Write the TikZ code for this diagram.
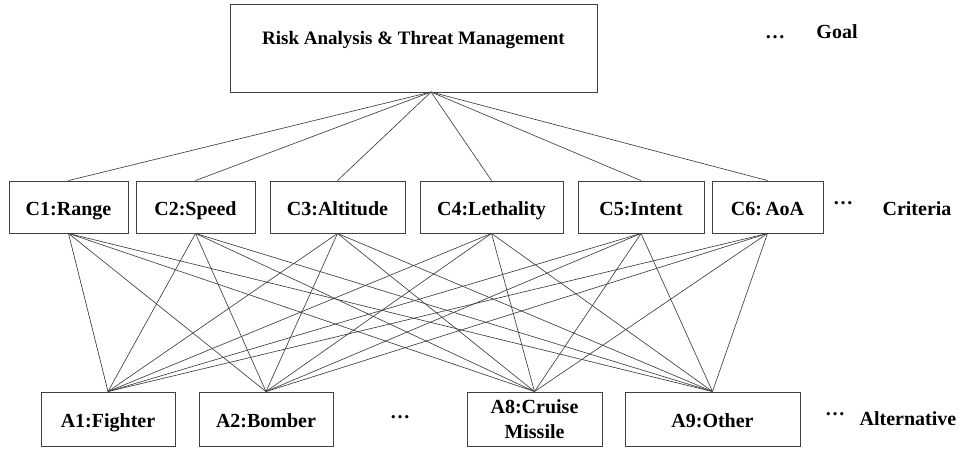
\documentclass[tikz,border=0pt]{standalone}
\usepackage{fontspec}
\setmainfont{Liberation Serif}
\begin{document}
\begin{tikzpicture}[x=1pt,y=-1pt,
  box/.style={draw=black!75,line width=0.9pt,inner sep=0pt,text height=17pt,text depth=0pt,font=\bfseries\fontsize{20}{22}\selectfont},
  link/.style={draw=black!75,line width=0.65pt},
  lbl/.style={inner sep=0pt,font=\bfseries\fontsize{20}{22}\selectfont}]
\useasboundingbox[fill=white] (0,0) rectangle (964,448);
% goal
\node[draw=black!75,line width=0.9pt,minimum width=367pt,minimum height=88pt] (goal) at (413.5,48) {};
\node[lbl,font=\bfseries\fontsize{19}{21}\selectfont] (goaltxt) at (413.5,40) {Risk Analysis \& Threat Management};
\coordinate (apex) at (431,92);
\node[lbl] (gdots) at (775,37) {\ldots};
\node[lbl] (goallbl) at (837,32) {Goal};
% criteria
\foreach \n/\l/\r/\t in {c1/9/128/C1:Range, c2/136/255/C2:Speed, c3/270/405/C3:Altitude,
  c4/420/563/C4:Lethality, c5/578/704/C5:Intent, c6/712/823/C6:\,AoA}{
  \node[box,minimum width={\r-\l},minimum height=52pt] (\n) at ({(\l+\r)/2},207) {\t};
}
\node[lbl] (cdots) at (843,203) {\ldots};
\node[lbl,text height=17pt,text depth=0pt] (critlbl) at (917,207) {Criteria};
% alternatives
\foreach \n/\l/\r/\t in {a1/41/175/A1:Fighter, a2/199/333/A2:Bomber, a9/625/800/A9:Other}{
  \node[box,text height=16pt,minimum width={\r-\l},minimum height=54pt] (\n) at ({(\l+\r)/2},419) {\t};
}
\node[draw=black!75,line width=0.9pt,inner sep=0pt,minimum width=135pt,minimum height=54pt,align=center,font=\bfseries\fontsize{20}{25}\selectfont] (a8) at (534.5,419) {A8:Cruise\\Missile};
\node[lbl] (adots1) at (400,417) {\ldots};
\node[lbl] (adots2) at (835,414) {\ldots};
\node[lbl,text height=14pt,text depth=0pt] (altlbl) at (908,418) {Alternative};
% links
\foreach \c in {c1,c2,c3,c4,c5,c6}{
  \draw[link] (apex) -- (\c.north);
  \foreach \a in {a1,a2,a8,a9}{
    \draw[link] (\c.south) -- (\a.north);
  }
}
\end{tikzpicture}
\end{document}
